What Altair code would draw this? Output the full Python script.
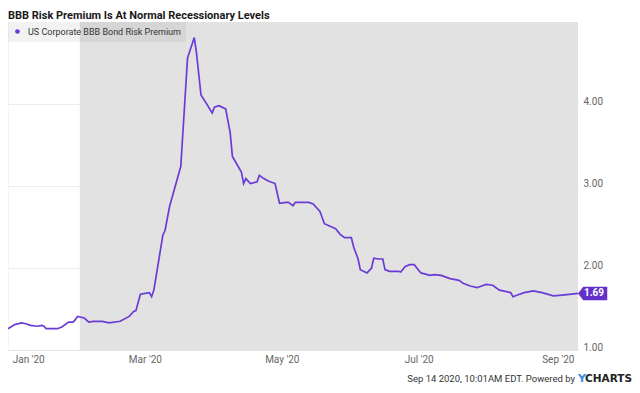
import altair as alt
import pandas as pd

# ---- data ----
dates = [
    "2019-12-31", "2020-01-03", "2020-01-06", "2020-01-08", "2020-01-10", "2020-01-13",
    "2020-01-15", "2020-01-16", "2020-01-17", "2020-01-22", "2020-01-24", "2020-01-27",
    "2020-01-29", "2020-01-30", "2020-01-31", "2020-02-03", "2020-02-05", "2020-02-07",
    "2020-02-11", "2020-02-14", "2020-02-19", "2020-02-23", "2020-02-25", "2020-02-26",
    "2020-02-28", "2020-03-03", "2020-03-04", "2020-03-05", "2020-03-09", "2020-03-10",
    "2020-03-12", "2020-03-17", "2020-03-20", "2020-03-23", "2020-03-24", "2020-03-26",
    "2020-03-29", "2020-03-31", "2020-04-01", "2020-04-03", "2020-04-06", "2020-04-08",
    "2020-04-09", "2020-04-13", "2020-04-14", "2020-04-15", "2020-04-17", "2020-04-20",
    "2020-04-21", "2020-04-23", "2020-04-25", "2020-04-28", "2020-04-30", "2020-05-03",
    "2020-05-04", "2020-05-06", "2020-05-07", "2020-05-11", "2020-05-13", "2020-05-15",
    "2020-05-18", "2020-05-20", "2020-05-25", "2020-05-27", "2020-05-29", "2020-06-01",
    "2020-06-02", "2020-06-04", "2020-06-05", "2020-06-08", "2020-06-10", "2020-06-11",
    "2020-06-13", "2020-06-15", "2020-06-16", "2020-06-18", "2020-06-22", "2020-06-23",
    "2020-06-25", "2020-06-27", "2020-06-29", "2020-07-02", "2020-07-06", "2020-07-08",
    "2020-07-11", "2020-07-15", "2020-07-19", "2020-07-21", "2020-07-24", "2020-07-27",
    "2020-07-31", "2020-08-03", "2020-08-06", "2020-08-11", "2020-08-12", "2020-08-14",
    "2020-08-17", "2020-08-21", "2020-08-25", "2020-08-30", "2020-09-03", "2020-09-10",
]
values = [
    1.26, 1.31, 1.33, 1.32, 1.30, 1.29,
    1.30, 1.29, 1.26, 1.26, 1.28, 1.34,
    1.34, 1.37, 1.41, 1.39, 1.34, 1.35,
    1.35, 1.33, 1.35, 1.41, 1.47, 1.48,
    1.68, 1.70, 1.65, 1.73, 2.40, 2.46,
    2.75, 3.24, 4.56, 4.81, 4.62, 4.11,
    3.98, 3.89, 3.96, 3.98, 3.94, 3.65,
    3.36, 3.17, 3.03, 3.09, 3.03, 3.05,
    3.13, 3.09, 3.06, 3.03, 2.79, 2.80,
    2.80, 2.76, 2.80, 2.80, 2.80, 2.78,
    2.69, 2.54, 2.48, 2.41, 2.37, 2.37,
    2.26, 2.11, 1.98, 1.94, 2.00, 2.12,
    2.11, 2.11, 1.98, 1.96, 1.96, 1.95,
    2.02, 2.04, 2.04, 1.94, 1.91, 1.92,
    1.91, 1.87, 1.85, 1.81, 1.78, 1.76,
    1.80, 1.79, 1.73, 1.70, 1.65, 1.67,
    1.70, 1.72, 1.70, 1.66, 1.67, 1.69,
]
series_name = "US Corporate BBB Bond Risk Premium"
shade_start = ["2020-02-01"]
shade_end = ["2020-09-10"]
x_tick_dates = ["2020-01-01", "2020-03-01", "2020-05-01", "2020-07-01", "2020-09-01"]
y_ticks = [1, 2, 3, 4]
y_domain = [1, 5]
title_text = ["BBB Risk Premium Is At Normal Recessionary Levels"]
footer_text = ["Sep 14 2020, 10:01AM EDT. Powered by"]
logo_y = ["Y"]
logo_rest = ["CHARTS"]

PURPLE = "#6b3bd6"
TAG = "#6331c9"
FONT = "Roboto"


def dt(s):
    y, m, d = (int(p) for p in s.split("-"))
    return alt.DateTime(year=y, month=m, date=d, utc=True)


df = pd.DataFrame({"date": dates, "value": values, "series": series_name})
last = pd.DataFrame({"date": [dates[-1]], "value": [values[-1]],
                     "label": [f"{values[-1]:.2f}"]})
shade_df = pd.DataFrame({"start": shade_start, "end": shade_end})

xscale = alt.Scale(type="utc", domain=[dt(dates[0]), dt(dates[-1])])
yscale = alt.Scale(domain=y_domain, nice=False, zero=False)

xaxis = alt.Axis(values=[dt(d) for d in x_tick_dates], format="%b '%y", title=None,
                 grid=False, ticks=False, domainColor="#e4e4e4", labelColor="#666666",
                 labelFontSize=10, labelFont=FONT, labelPadding=4,
                 labelFlush=5, labelFlushOffset=-2)
yaxis = alt.Axis(orient="right", values=y_ticks, format=".2f", title=None, domain=False,
                 ticks=False, labelPadding=5, labelOffset=-3, labelColor="#666666",
                 labelFontSize=10, labelFont=FONT, gridColor="#ededed")

shade = alt.Chart(shade_df).mark_rect(color="#e2e2e2").encode(
    x=alt.X("start:T", scale=xscale, axis=xaxis),
    x2="end:T",
)

left_edge = alt.Chart(shade_df).mark_rule(color="#ececec", strokeWidth=1).encode(
    x=alt.value(0), y=alt.value(0), y2=alt.value(328)
)

line = alt.Chart(df).mark_line(strokeWidth=1.7).encode(
    x=alt.X("date:T", scale=xscale),
    y=alt.Y("value:Q", scale=yscale, axis=yaxis),
    color=alt.Color("series:N",
                    scale=alt.Scale(domain=[series_name], range=[PURPLE]),
                    legend=alt.Legend(orient="none", legendX=0, legendY=0, title=None,
                                      fillColor="rgba(0,0,0,0.05)", padding=5,
                                      symbolType="circle", symbolSize=22,
                                      symbolFillColor=PURPLE, symbolStrokeColor=PURPLE,
                                      symbolStrokeWidth=0, labelFont=FONT,
                                      labelFontSize=9, labelColor="#333333",
                                      labelOffset=6, labelLimit=400)),
)

tag_path = "M0,0 L0.35,-0.45 L1.95,-0.45 L1.95,0.45 L0.35,0.45 Z"
tag = alt.Chart(last).mark_point(shape=tag_path, size=900, filled=True, opacity=1,
                                 color=TAG, strokeWidth=0).encode(
    x=alt.X("date:T", scale=xscale),
    y=alt.Y("value:Q", scale=yscale),
)
tag_text = alt.Chart(last).mark_text(dx=16, color="white", fontWeight="bold",
                                     fontSize=10, font=FONT, align="center",
                                     baseline="middle").encode(
    x=alt.X("date:T", scale=xscale),
    y=alt.Y("value:Q", scale=yscale),
    text="label:N",
)

title = alt.Chart(pd.DataFrame({"t": title_text})).mark_text(
    align="left", baseline="alphabetic", fontSize=11, font=FONT, fontWeight="bold",
    color="#1a1a1a"
).encode(x=alt.value(0), y=alt.value(-3), text="t:N")

footer = alt.Chart(pd.DataFrame({"t": footer_text})).mark_text(
    align="right", baseline="middle", fontSize=9.5, font=FONT, color="#333333"
).encode(x=alt.value(567), y=alt.value(357), text="t:N")
logo1 = alt.Chart(pd.DataFrame({"t": logo_y})).mark_text(
    align="right", baseline="middle", fontSize=11, font="DejaVu Sans", fontWeight="bold",
    color="#2f8fe6"
).encode(x=alt.value(578), y=alt.value(357), text="t:N")
logo2 = alt.Chart(pd.DataFrame({"t": logo_rest})).mark_text(
    align="right", baseline="middle", fontSize=10.5, font="DejaVu Sans", fontWeight="bold",
    color="#222222"
).encode(x=alt.value(624), y=alt.value(357), text="t:N")

chart = alt.layer(shade, left_edge, line, tag, tag_text, title, footer, logo1, logo2).properties(
    width=570, height=328,
    autosize=alt.AutoSizeParams(type="none"),
    padding={"left": 0, "top": 14, "right": 54, "bottom": 35},
).configure_view(stroke=None)

chart.save("out.html", embed_options={"renderer": "svg", "actions": False})
